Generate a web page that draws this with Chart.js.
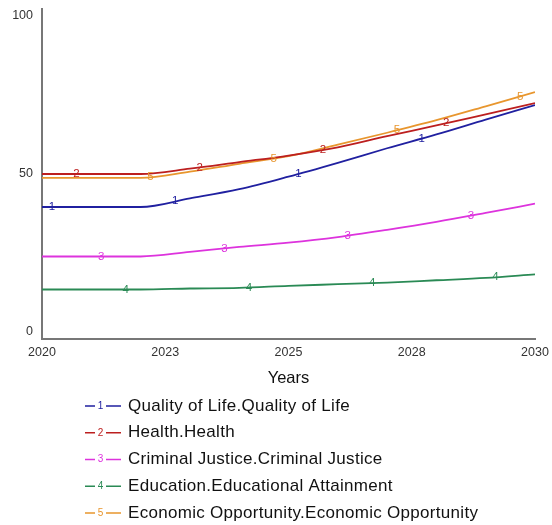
<!DOCTYPE html>
<html lang="en">
<head>
    <meta charset="UTF-8">
    <title>Quality of Life indicators</title>
    <script src="https://cdn.jsdelivr.net/npm/chart.js"></script>
    <style>
        html, body {
            margin: 0;
            padding: 0;
            background: #ffffff;
        }

        #wrap {
            width: 552px;
            height: 525px;
            position: relative;
        }
    </style>
</head>
<body>
<div id="wrap">
    <canvas id="simCanvas"></canvas>
</div>

<script>
    // Dati (valori per anno)
    const years = [2020, 2021, 2022, 2023, 2024, 2025, 2026, 2027, 2028, 2029, 2030];
    const qualityOfLife = [40, 40, 40, 42.6, 45.4, 49.2, 53.4, 57.8, 62.0, 66.5, 70.9];
    const health = [50, 50, 50, 51.6, 53.6, 55.6, 58.1, 61.5, 64.7, 68.1, 71.5];
    const criminalJustice = [25, 25, 25, 26.4, 27.9, 29.2, 30.9, 33.1, 35.5, 38.2, 41.0];
    const education = [15, 15, 15, 15.3, 15.5, 16.1, 16.6, 17.1, 17.8, 18.5, 19.6];
    const economicOpportunity = [48.8, 48.8, 48.8, 50.7, 53.1, 55.4, 58.9, 62.5, 66.3, 70.5, 74.8];

    const seriesLabels = [
        'Quality of Life.Quality of Life',
        'Health.Health',
        'Criminal Justice.Criminal Justice',
        'Education.Educational Attainment',
        'Economic Opportunity.Economic Opportunity'
    ];
    const yTicks = [0, 50, 100];
    const axisTitle = 'Years';

    const colors = ['#2020a0', '#bc1f1f', '#dd33dd', '#2a8a55', '#e8962e'];
    const FONT = '"Liberation Sans", Arial, sans-serif';

    function toPoints(values) {
        return values.map((v, i) => ({ x: years[i], y: v }));
    }

    // valore sulla linea per posizionare i numeri della serie
    function valueAt(data, x) {
        for (let i = 0; i < data.length - 1; i++) {
            if (x >= data[i].x && x <= data[i + 1].x) {
                const t = (x - data[i].x) / (data[i + 1].x - data[i].x);
                return data[i].y + t * (data[i + 1].y - data[i].y);
            }
        }
        return data[data.length - 1].y;
    }

    const textPlugin = {
        id: 'vensimText',
        afterDatasetsDraw(chart) {
            const ctx = chart.ctx;
            const xs = chart.scales.x;
            const ys = chart.scales.y;
            ctx.save();

            // numeri sulle linee
            ctx.font = '11.5px ' + FONT;
            ctx.textAlign = 'center';
            ctx.textBaseline = 'middle';
            chart.data.datasets.forEach((ds, i) => {
                ctx.fillStyle = ds.borderColor;
                for (let k = 0; k < 4; k++) {
                    const yr = years[0] + 0.2 + 0.5 * i + 2.5 * k;
                    const v = valueAt(ds.data, yr);
                    ctx.fillText(String(i + 1), xs.getPixelForValue(yr), ys.getPixelForValue(v));
                }
            });

            // etichette asse y
            ctx.font = '12.5px ' + FONT;
            ctx.fillStyle = '#333';
            ctx.textAlign = 'right';
            ys.ticks.forEach(t => {
                let py = ys.getPixelForValue(t.value);
                py = Math.min(Math.max(py, ys.top + 7), ys.bottom - 7);
                ctx.fillText(String(t.value), xs.left - 9, py);
            });

            // etichette asse x
            ctx.textAlign = 'center';
            xs.ticks.forEach(t => {
                ctx.fillText(String(Math.round(t.value)), xs.getPixelForValue(t.value), ys.bottom + 14);
            });

            // titolo asse x
            ctx.font = '16.5px ' + FONT;
            ctx.fillStyle = '#111';
            ctx.fillText(axisTitle, (xs.left + xs.right) / 2, ys.bottom + 39);

            // legenda
            chart.data.datasets.forEach((ds, i) => {
                const y = ys.bottom + 67 + i * 26.75;
                ctx.strokeStyle = ds.borderColor;
                ctx.lineWidth = 1.6;
                ctx.beginPath();
                ctx.moveTo(85, y);
                ctx.lineTo(95, y);
                ctx.moveTo(106, y);
                ctx.lineTo(121, y);
                ctx.stroke();
                ctx.fillStyle = ds.borderColor;
                ctx.font = '10px ' + FONT;
                ctx.textAlign = 'center';
                ctx.letterSpacing = '0px';
                ctx.fillText(String(i + 1), 100.5, y);
                ctx.fillStyle = '#111';
                ctx.font = '17px ' + FONT;
                ctx.textAlign = 'left';
                ctx.letterSpacing = '0.3px';
                ctx.fillText(ds.label, 128, y);
                ctx.letterSpacing = '0px';
            });

            ctx.restore();
        }
    };

    function initializeChart() {
        const ctx = document.getElementById('simCanvas').getContext('2d');
        const allSeries = [qualityOfLife, health, criminalJustice, education, economicOpportunity];

        new Chart(ctx, {
            type: 'line',
            data: {
                datasets: allSeries.map((values, i) => ({
                    label: seriesLabels[i],
                    data: toPoints(values),
                    borderColor: colors[i],
                    borderWidth: 1.8,
                    pointRadius: 0,
                    fill: false,
                    cubicInterpolationMode: 'monotone'
                }))
            },
            options: {
                responsive: true,
                maintainAspectRatio: false,
                animation: false,
                layout: {
                    padding: { left: 42, top: 9, right: 17, bottom: 186 }
                },
                plugins: {
                    legend: { display: false },
                    tooltip: { enabled: false }
                },
                scales: {
                    x: {
                        type: 'linear',
                        min: years[0],
                        max: years[years.length - 1],
                        ticks: { display: false, stepSize: 2.5 },
                        grid: { display: false, drawTicks: false },
                        border: { display: true, color: '#777', width: 2 }
                    },
                    y: {
                        min: 0,
                        max: 100,
                        afterBuildTicks: scale => {
                            scale.ticks = yTicks.map(v => ({ value: v }));
                        },
                        ticks: { display: false },
                        grid: { display: false, drawTicks: false },
                        border: { display: true, color: '#777', width: 2 }
                    }
                }
            },
            plugins: [textPlugin]
        });
    }

    window.onload = () => {
        initializeChart();
    };
</script>
</body>
</html>
